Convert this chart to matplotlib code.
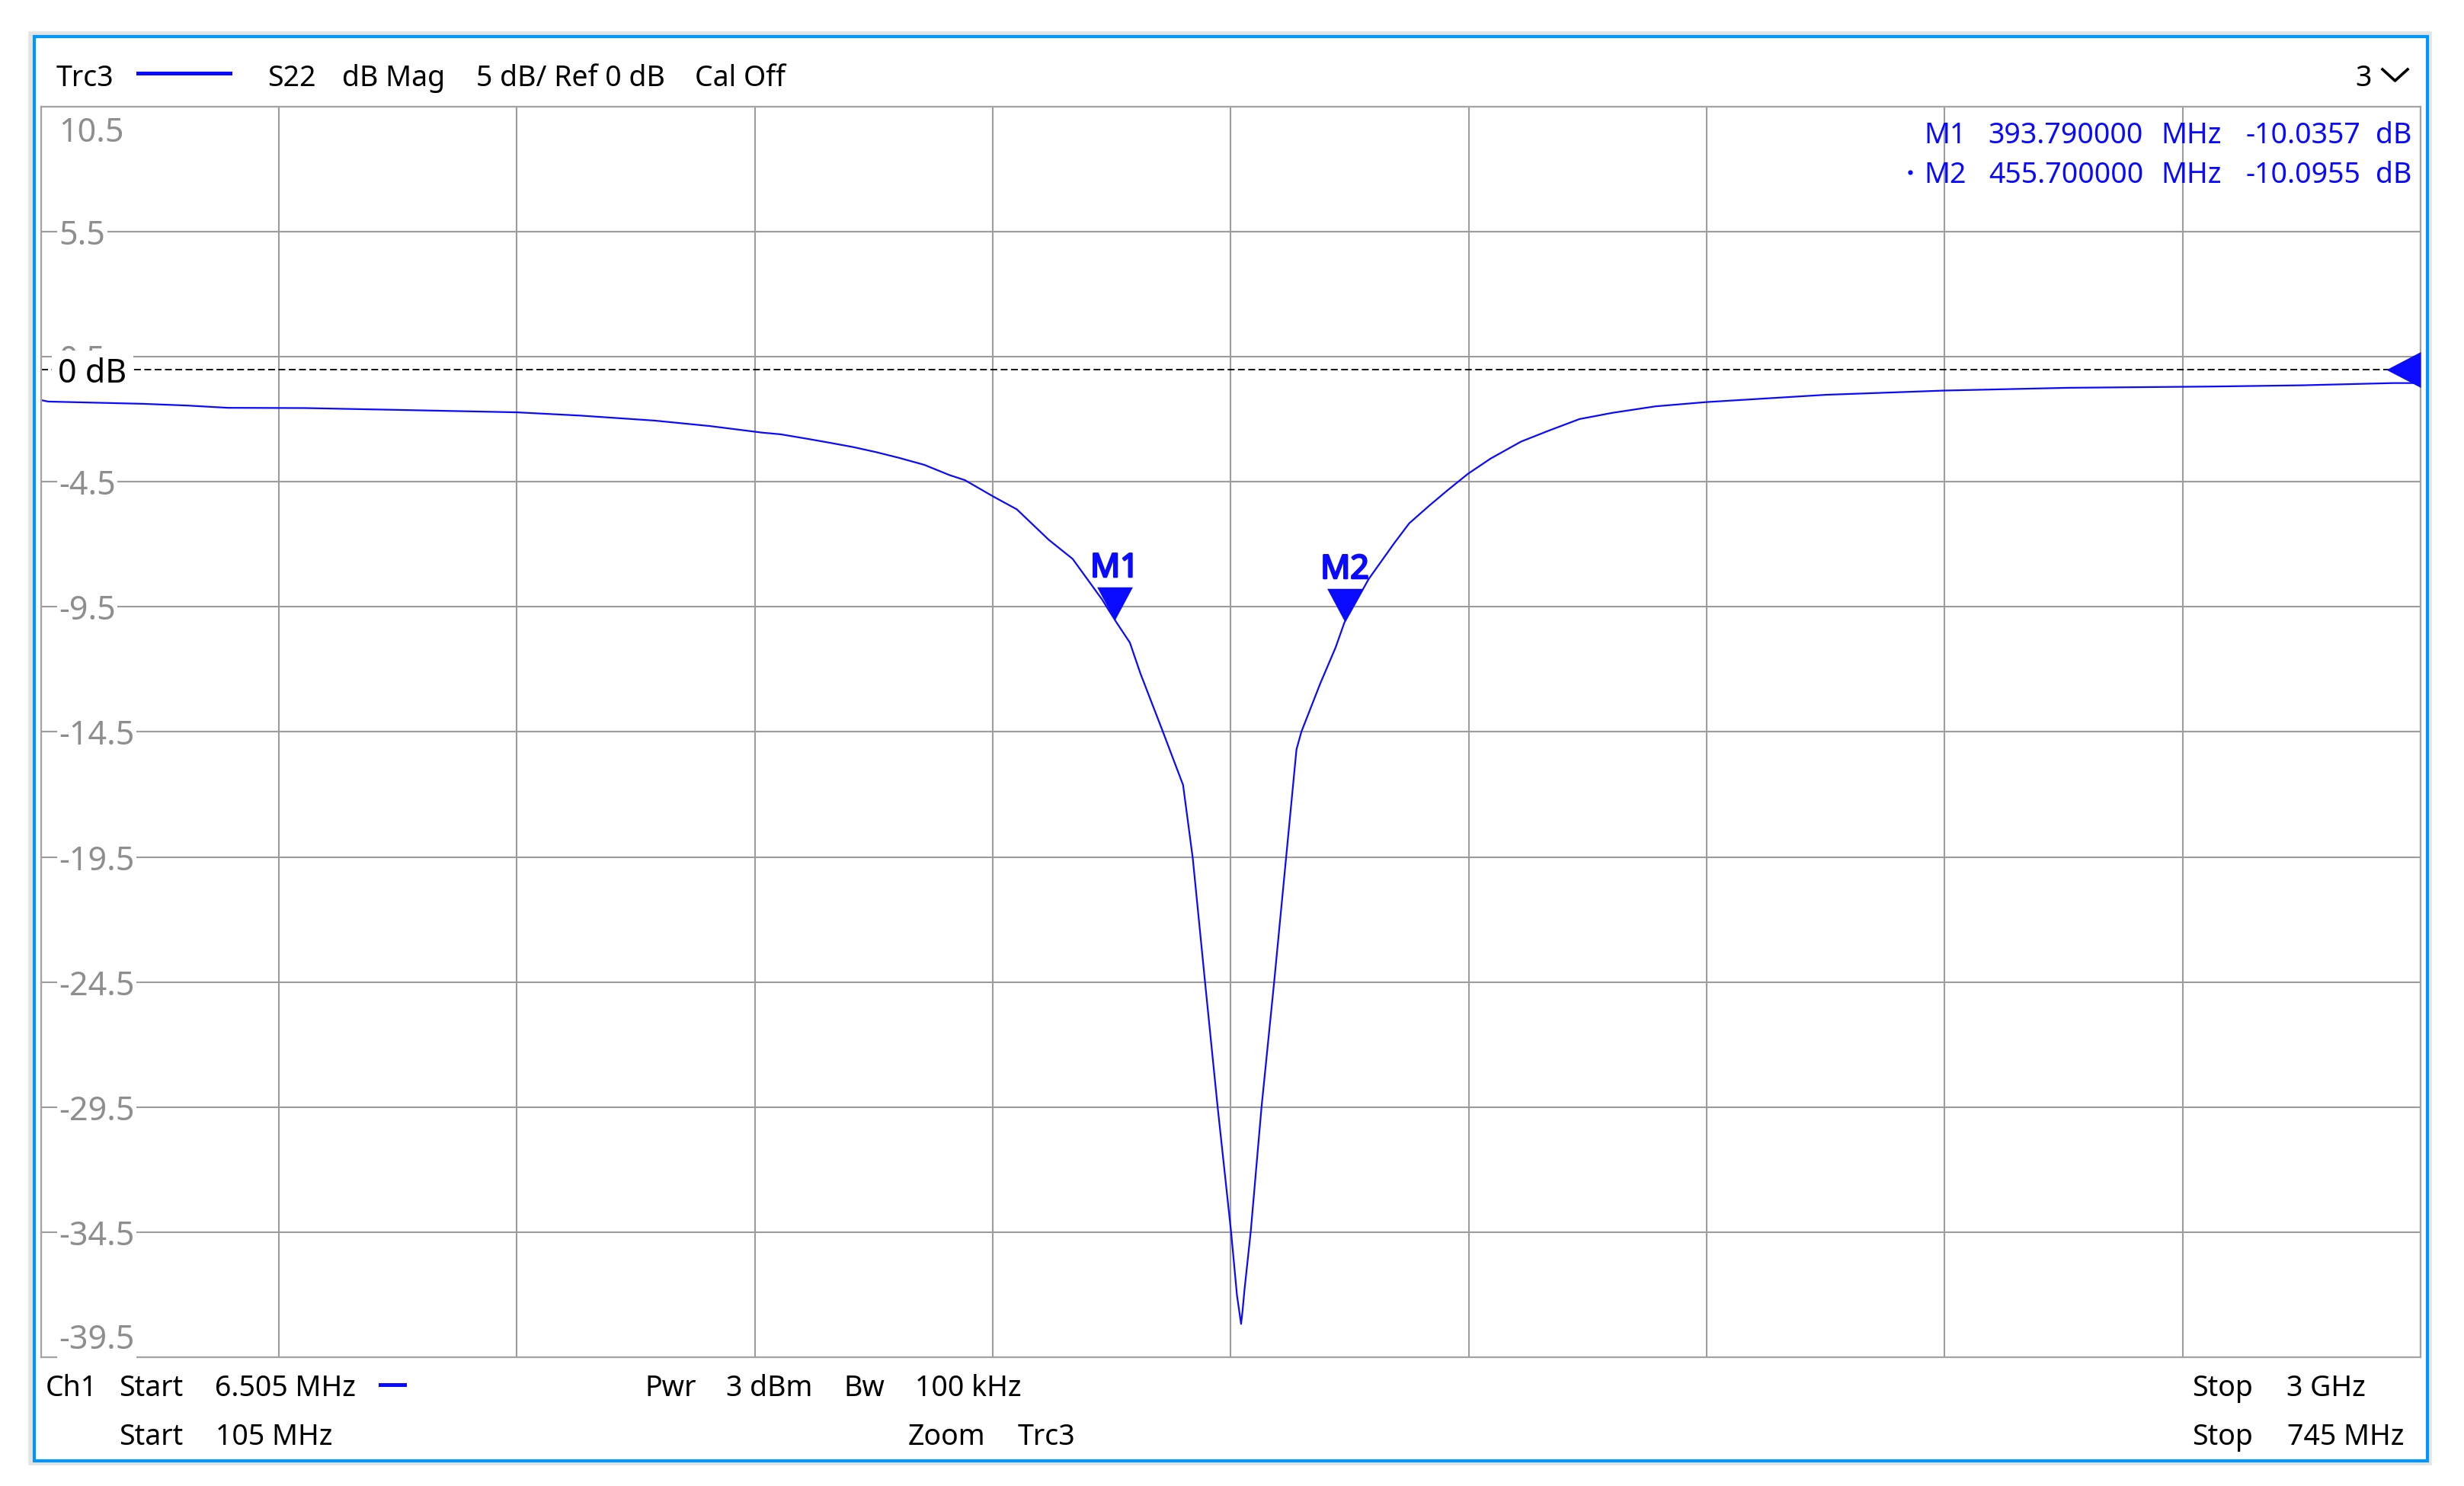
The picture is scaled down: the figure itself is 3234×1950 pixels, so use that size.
import numpy as np
import matplotlib.pyplot as plt
import matplotlib.patheffects as pe
from matplotlib.patches import Rectangle
from matplotlib.lines import Line2D

plt.rcParams['font.family'] = ['Noto Sans', 'DejaVu Sans']

W, H = 3234, 1950

# S22 trace (zoomed span)
freq_mhz = [105.0, 107.0, 132.5, 144.6, 155.3, 176.0, 200.0, 233.0, 250.0, 270.0,
            285.0, 298.9, 304.0, 311.2, 317.3, 323.5, 329.6, 335.8, 342.6, 349.4,
            353.5, 361.2, 367.5, 376.1, 382.5, 390.4, 394.2, 397.9, 400.7, 406.8,
            412.2, 414.8, 418.1, 421.5, 425.1, 426.7, 427.8, 428.2, 428.7, 430.4,
            433.3, 436.7, 439.9, 442.7, 444.0, 449.1, 453.2, 455.6, 462.1, 468.9,
            473.0, 478.5, 483.3, 488.8, 494.9, 503.1, 510.6, 518.8, 527.7, 539.3,
            553.0, 585.0, 617.0, 650.0, 688.2, 713.1, 737.7, 745.0]
s22_db = [-1.23, -1.29, -1.38, -1.45, -1.54, -1.55, -1.62, -1.72, -1.85, -2.05,
          -2.27, -2.53, -2.60, -2.78, -2.94, -3.11, -3.31, -3.54, -3.82, -4.23,
          -4.43, -5.09, -5.60, -6.82, -7.58, -9.20, -10.10, -10.93, -12.15, -14.50,
          -16.62, -19.54, -24.49, -29.50, -34.47, -37.03, -38.17, -37.64, -36.83, -34.47,
          -29.50, -24.49, -19.54, -15.20, -14.50, -12.56, -11.13, -10.12, -8.39, -6.97,
          -6.16, -5.44, -4.84, -4.18, -3.57, -2.89, -2.45, -1.99, -1.74, -1.48,
          -1.31, -1.02, -0.85, -0.74, -0.69, -0.64, -0.55, -0.55]

start_mhz, stop_mhz = 105, 745
ref_db = 0
db_top, db_per_div, n_div = 10.5, 5, 10
grid_db = [db_top - db_per_div * i for i in range(n_div + 1)]
grid_labels = ['10.5', '5.5', '0.5', '-4.5', '-9.5', '-14.5', '-19.5',
               '-24.5', '-29.5', '-34.5', '-39.5']

marker_names = ['M1', 'M2']
marker_mhz = [393.79, 455.70]
marker_db = [-10.0357, -10.0955]

BLUE = '#0a0aff'
GRID = '#9c9c9c'


def fx(px):
    return px / W


def fy(py):
    return 1 - py / H


fig = plt.figure(figsize=(W / 100, H / 100), dpi=100)
ax = fig.add_axes([fx(53.5), fy(1781), (3177 - 53.5) / W, (1781 - 140) / H])

ax.set_xlim(start_mhz, stop_mhz)
ax.set_ylim(grid_db[-1], grid_db[0])
ax.set_xticks(np.linspace(start_mhz, stop_mhz, n_div + 1))
ax.set_yticks(grid_db)
ax.tick_params(length=0, labelbottom=False, labelleft=False)
ax.set_axisbelow(True)
ax.grid(True, color=GRID, lw=1.5)
for sp in ax.spines.values():
    sp.set_color('#a3a3a3')
    sp.set_linewidth(1.6)

# reference level line
ax.axhline(ref_db, color='black', lw=1.3, dashes=(5, 2.5), zorder=1.5)

ax.plot(freq_mhz, s22_db, color=BLUE, lw=1.6, zorder=2)

# reference level arrow on the right edge
ref_tri = [(0, -1.04), (0, 1.04), (-2, 0), (0, -1.04)]
ax.plot([stop_mhz], [ref_db], marker=ref_tri, ms=65, color=BLUE,
        mec='none', clip_on=False, zorder=4)

# marker triangles and names
mk_tri = [(-1, 1.87), (1, 1.87), (0, 0), (-1, 1.87)]
for name, f, v in zip(marker_names, marker_mhz, marker_db):
    ax.plot([f], [v], marker=mk_tri, ms=63, color=BLUE, mec='none', zorder=4)
    ax.annotate(name, (f, v), xytext=(0, 41), textcoords='offset points',
                ha='center', va='baseline', fontsize=31, fontweight='bold',
                color=BLUE, zorder=5,
                path_effects=[pe.withStroke(linewidth=1.8, foreground=BLUE)])

# y grid labels inside the diagram
ytrans = ax.get_yaxis_transform()
for i, (g, lab) in enumerate(zip(grid_db, grid_labels)):
    dy = -6
    if i == 0:
        dy = -35
    elif i == len(grid_db) - 1:
        dy = 22
    ax.annotate(lab, (0, g), xycoords=ytrans, xytext=(24, dy),
                textcoords='offset pixels', ha='left', va='center',
                fontsize=31, color='#8e8e8e', zorder=3,
                bbox=dict(facecolor='white', edgecolor='none', pad=1.5))
ax.annotate('0 dB', (0, ref_db), xycoords=ytrans, xytext=(23, -6),
            textcoords='offset pixels', ha='left', va='center',
            fontsize=31, color='black', zorder=3.5,
            bbox=dict(facecolor='white', edgecolor='none', pad=6))

# window frame
fig.add_artist(Rectangle((fx(40), fy(1920)), (3189 - 40) / W, (1920 - 44) / H,
                         transform=fig.transFigure, fill=False,
                         edgecolor='#e4e4e4', lw=4))
fig.add_artist(Rectangle((fx(45), fy(1917)), (3186 - 45) / W, (1917 - 48) / H,
                         transform=fig.transFigure, fill=False,
                         edgecolor='#0096ff', lw=3))

# header line
fs = 27
fig.text(fx(74), fy(113), 'Trc3', fontsize=fs, va='baseline')
fig.add_artist(Line2D([fx(181), fx(302)], [fy(95.5), fy(95.5)], color=BLUE,
                      lw=3.6, transform=fig.transFigure))
for txt, x in [('S22', 351), ('dB Mag', 449), ('5 dB/ Ref 0 dB', 625), ('Cal Off', 912)]:
    fig.text(fx(x), fy(113), txt, fontsize=fs, va='baseline')
fig.text(fx(3091), fy(113), '3', fontsize=fs, va='baseline')
fig.add_artist(Line2D([fx(3127), fx(3143.5), fx(3160)], [fy(91), fy(106), fy(91)],
                      color='black', lw=2.6, transform=fig.transFigure))

# marker readout
for k, (name, f, v) in enumerate(zip(marker_names, marker_mhz, marker_db)):
    yb = fy(188 + 52 * k)
    fig.text(fx(2525), yb, name, fontsize=fs, va='baseline', color=BLUE)
    fig.text(fx(2813), yb, f'{f:.6f}', fontsize=fs, va='baseline', ha='right', color=BLUE)
    fig.text(fx(2836), yb, 'MHz', fontsize=fs, va='baseline', color=BLUE)
    fig.text(fx(3098), yb, f'{v:.4f}', fontsize=fs, va='baseline', ha='right', color=BLUE)
    fig.text(fx(3118), yb, 'dB', fontsize=fs, va='baseline', color=BLUE)
fig.add_artist(Line2D([fx(2507)], [fy(226)], marker='o', ms=4.5, color=BLUE,
                      mec='none', transform=fig.transFigure))

# footer (channel settings)
line1 = [('Ch1', 60), ('Start', 156), ('6.505 MHz', 282), ('Pwr', 846),
         ('3 dBm', 953), ('Bw', 1107), ('100 kHz', 1201), ('Stop', 2877), ('3 GHz', 3001)]
line2 = [('Start', 156), (f'{start_mhz} MHz', 283), ('Zoom', 1192), ('Trc3', 1336),
         ('Stop', 2877), (f'{stop_mhz} MHz', 3002)]
for txt, x in line1:
    fig.text(fx(x), fy(1832), txt, fontsize=fs, va='baseline')
for txt, x in line2:
    fig.text(fx(x), fy(1896), txt, fontsize=fs, va='baseline')
fig.add_artist(Line2D([fx(499), fx(531)], [fy(1816.5), fy(1816.5)], color=BLUE,
                      lw=3.6, transform=fig.transFigure))

fig.savefig('out.png', dpi=100, facecolor='white')
